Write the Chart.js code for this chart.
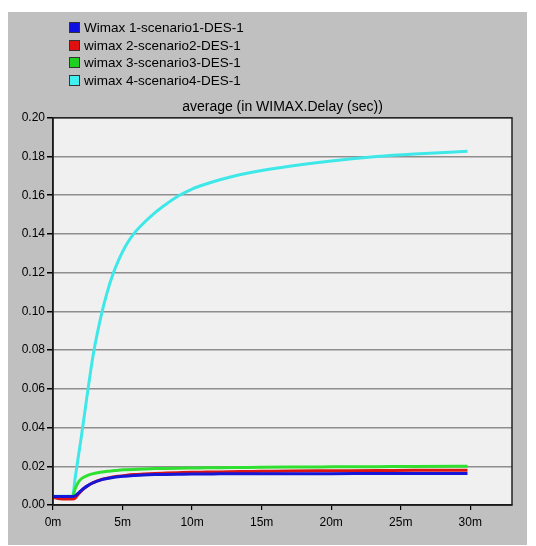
<!DOCTYPE html>
<html>
<head>
<meta charset="utf-8">
<script src="https://cdn.jsdelivr.net/npm/chart.js@4.4.1/dist/chart.umd.min.js"></script>
<style>
  html, body { margin: 0; padding: 0; background: #fff; }
  #panel { position: absolute; left: 8px; top: 12px; width: 519px; height: 533px; background: #c0c0c0; }
  #chart { position: absolute; left: 0; top: 0; }
  #legend { position: absolute; left: 61px; top: 7px; font: 13.5px "Liberation Sans", Arial, sans-serif; color: #000; }
  #legend div { height: 17.5px; line-height: 17.5px; white-space: nowrap; }
  #legend span { display: inline-block; width: 9px; height: 9px; border: 1px solid #333; margin-right: 4px; vertical-align: -1px; }
</style>
</head>
<body>
<div id="panel">
  <canvas id="chart" width="519" height="533"></canvas>
  <div id="legend"></div>
</div>
<script>
const seriesNames = ["Wimax 1-scenario1-DES-1", "wimax 2-scenario2-DES-1", "wimax 3-scenario3-DES-1", "wimax 4-scenario4-DES-1"];
const seriesColors = ["#1616d8", "#dc1414", "#30e030", "#3ee8e8"];
const legendColors = ["#1010e0", "#e01010", "#20d020", "#40f0f0"];

// time in minutes
const timeMinutes = [0, 0.5, 1.0, 1.4, 1.6, 1.8, 2.0, 2.2, 2.5, 2.9, 3.5, 3.9, 4.3, 4.7, 5.2, 5.8, 6.5, 7.3, 8.1, 9.0, 10, 11, 12, 13.5, 15, 17, 20, 23.3, 26, 29.8];
const wimax1Delay = [0.0044, 0.0044, 0.0044, 0.0044, 0.0048, 0.0060, 0.0073, 0.0085, 0.0100, 0.0115, 0.0131, 0.0137, 0.0142, 0.0146, 0.0149, 0.0152, 0.0155, 0.0157, 0.0158, 0.0159, 0.0160, 0.0160, 0.0161, 0.0161, 0.0162, 0.0162, 0.0162, 0.0163, 0.0163, 0.0163];
const wimax2Delay = [0.0040, 0.0032, 0.0031, 0.0031, 0.0036, 0.0054, 0.0070, 0.0084, 0.0100, 0.0116, 0.0132, 0.0139, 0.0145, 0.0149, 0.0153, 0.0157, 0.0160, 0.0163, 0.0165, 0.0167, 0.0169, 0.0170, 0.0171, 0.0173, 0.0174, 0.0176, 0.0177, 0.0178, 0.0179, 0.0180];
const wimax3Delay = [0.0042, 0.0040, 0.0040, 0.0042, 0.0085, 0.0115, 0.0133, 0.0143, 0.0153, 0.0162, 0.0170, 0.0174, 0.0177, 0.0180, 0.0182, 0.0184, 0.0186, 0.0188, 0.0189, 0.0190, 0.0191, 0.0192, 0.0193, 0.0194, 0.0195, 0.0196, 0.0197, 0.0198, 0.0199, 0.0200];
const wimax4Delay = [0.0045, 0.0045, 0.0045, 0.0045, 0.0143, 0.0240, 0.0335, 0.0435, 0.0590, 0.0780, 0.0990, 0.1100, 0.1190, 0.1262, 0.1335, 0.1400, 0.1455, 0.1508, 0.1552, 0.1596, 0.1632, 0.1658, 0.1680, 0.1707, 0.1728, 0.1750, 0.1777, 0.1800, 0.1813, 0.1827];

const yTicks = [0.00, 0.02, 0.04, 0.06, 0.08, 0.10, 0.12, 0.14, 0.16, 0.18, 0.20];
const xTicks = [0, 5, 10, 15, 20, 25, 30];

const allSeries = [wimax1Delay, wimax2Delay, wimax3Delay, wimax4Delay];

const legend = document.getElementById("legend");
seriesNames.forEach((n, i) => {
  const d = document.createElement("div");
  d.innerHTML = '<span style="background:' + legendColors[i] + '"></span>' + n;
  legend.appendChild(d);
});

const plotFrame = {
  id: "plotFrame",
  beforeDraw(chart) {
    const a = chart.chartArea, c = chart.ctx;
    c.save();
    c.fillStyle = "#f0f0f0";
    c.fillRect(a.left, a.top, a.right - a.left, a.bottom - a.top);
    c.restore();
  },
  afterDraw(chart) {
    const a = chart.chartArea, c = chart.ctx;
    c.save();
    c.strokeStyle = "#222";
    c.lineWidth = 1.5;
    c.strokeRect(a.left, a.top, a.right - a.left, a.bottom - a.top);
    c.restore();
  }
};

const font = { family: "'Liberation Sans', Arial, sans-serif", size: 12 };

new Chart(document.getElementById("chart"), {
  type: "line",
  data: {
    datasets: allSeries.map((vals, i) => ({
      label: seriesNames[i],
      data: vals.map((v, k) => ({ x: timeMinutes[k], y: v })),
      borderColor: seriesColors[i],
      borderWidth: 3,
      pointRadius: 0,
      cubicInterpolationMode: "monotone",
      fill: false
    }))
  },
  options: {
    responsive: false,
    animation: false,
    layout: { padding: { left: 0, right: 15, top: 0, bottom: 0 } },
    plugins: {
      legend: { display: false },
      tooltip: { enabled: false },
      title: {
        display: true,
        text: "average (in WIMAX.Delay (sec))",
        fullSize: false,
        color: "#000",
        font: { family: font.family, size: 14, weight: "normal" },
        padding: { top: 87, bottom: 2 }
      }
    },
    scales: {
      x: {
        type: "linear",
        min: 0,
        max: 33,
        afterBuildTicks(scale) { scale.ticks = xTicks.map(v => ({ value: v })); },
        afterFit(scale) { scale.height = 40; },
        ticks: { color: "#000", font: font, padding: 5, maxRotation: 0, callback: v => v + "m" },
        grid: { drawOnChartArea: false, tickColor: "#000", tickLength: 5, lineWidth: 1.2 },
        border: { display: true, color: "#000", width: 1.5 }
      },
      y: {
        min: 0,
        max: 0.2,
        afterBuildTicks(scale) { scale.ticks = yTicks.map(v => ({ value: v })); },
        afterFit(scale) { scale.width = 45; },
        ticks: { color: "#000", font: font, padding: 2, callback: v => v.toFixed(2) },
        grid: { color: "#8e8e8e", lineWidth: 1.5, tickColor: "#000", tickLength: 6 },
        border: { display: true, color: "#000", width: 1.5 }
      }
    }
  },
  plugins: [plotFrame]
});
</script>
</body>
</html>
